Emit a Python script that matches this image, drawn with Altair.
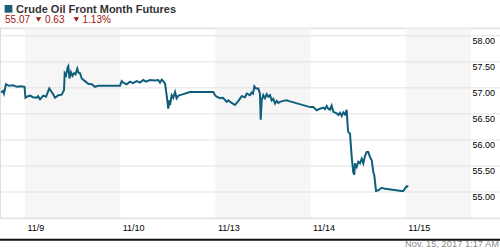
import altair as alt
import pandas as pd

# Trading-session position (0 = start of 11/9 session, 1 = 11/10, ...) and price
t = [-0.252, -0.231, -0.221, -0.200, -0.168, -0.126, -0.084, -0.042, -0.005, 0.005,
     0.032, 0.053, 0.084, 0.123, 0.137, 0.158, 0.192, 0.221, 0.255, 0.280,
     0.294, 0.315, 0.350, 0.386, 0.410, 0.417, 0.431, 0.449, 0.455, 0.467,
     0.483, 0.499, 0.515, 0.530, 0.549, 0.562, 0.578, 0.596, 0.630, 0.665,
     0.701, 0.735, 0.770, 0.998, 1.016, 1.033, 1.068, 1.103, 1.134, 1.173,
     1.208, 1.243, 1.271, 1.313, 1.366, 1.400, 1.418, 1.436, 1.453, 1.471,
     1.488, 1.505, 1.516, 1.523, 1.541, 1.558, 1.576, 1.593, 1.612, 1.628,
     1.663, 1.699, 1.733, 1.978, 1.996, 2.014, 2.048, 2.080, 2.119, 2.136,
     2.171, 2.206, 2.241, 2.277, 2.311, 2.329, 2.363, 2.381, 2.395, 2.409,
     2.426, 2.451, 2.468, 2.476, 2.486, 2.503, 2.521, 2.539, 2.556, 2.574,
     2.591, 2.608, 2.626, 2.644, 2.661, 2.679, 2.713, 2.749, 2.784, 2.994,
     3.028, 3.064, 3.099, 3.133, 3.151, 3.169, 3.186, 3.204, 3.221, 3.239,
     3.274, 3.291, 3.309, 3.327, 3.344, 3.361, 3.379, 3.390, 3.396, 3.414,
     3.432, 3.448, 3.459, 3.466, 3.484, 3.501, 3.519, 3.537, 3.554, 3.571,
     3.589, 3.606, 3.624, 3.642, 3.659, 3.669, 3.687, 3.711, 3.747, 3.782,
     3.957, 3.974, 3.992, 4.010, 4.026]
price = [56.91, 56.94, 56.89, 57.07, 57.04, 57.05, 57.02, 57.03, 57.02, 56.81,
         56.84, 56.85, 56.82, 56.81, 56.84, 56.78, 56.85, 56.83, 56.99, 56.92,
         56.88, 56.81, 56.86, 56.87, 56.96, 57.28, 57.24, 57.40, 57.42, 57.18,
         57.30, 57.23, 57.28, 57.26, 57.37, 57.29, 57.28, 57.18, 57.13, 57.08,
         57.07, 57.02, 57.04, 57.04, 57.13, 57.10, 57.07, 57.12, 57.09, 57.13,
         57.10, 57.15, 57.12, 57.15, 57.14, 57.15, 57.10, 57.16, 57.13, 57.08,
         56.86, 56.60, 56.76, 56.67, 56.86, 56.81, 56.92, 56.80, 56.85, 56.86,
         56.88, 56.90, 56.92, 56.92, 56.86, 56.83, 56.80, 56.81, 56.73, 56.76,
         56.71, 56.67, 56.75, 56.84, 56.82, 56.89, 56.86, 56.91, 56.89, 57.03,
         56.99, 56.99, 56.89, 56.39, 56.76, 56.86, 56.80, 56.88, 56.83, 56.86,
         56.76, 56.79, 56.70, 56.75, 56.71, 56.73, 56.75, 56.76, 56.74, 56.63,
         56.63, 56.57, 56.60, 56.62, 56.59, 56.65, 56.60, 56.58, 56.66, 56.54,
         56.51, 56.48, 56.52, 56.46, 56.53, 56.49, 56.58, 56.24, 56.15, 56.12,
         55.67, 55.38, 55.33, 55.55, 55.48, 55.58, 55.55, 55.64, 55.55, 55.69,
         55.77, 55.77, 55.67, 55.61, 55.38, 55.32, 55.02, 55.03, 55.08, 55.06,
         55.02, 55.02, 55.07, 55.11, 55.10]

day_pos = [0, 1, 2, 3, 4]
day_labels = ["11/9", "11/10", "11/13", "11/14", "11/15"]
band_start = [0, 2, 4]
band_end = [1, 3, 4.685]
price_ticks = [55.0, 55.5, 56.0, 56.5, 57.0, 57.5, 58.0]
grid_values = [54.5] + price_ticks + [58.15]

title_text = "Crude Oil Front Month Futures"
last_text = "55.07"
chg_text = "0.63"
pct_text = "1.13%"
stamp_text = "Nov. 15, 2017 1:17 AM"

X_DOMAIN = [-0.2626, 4.9895]
Y_DOMAIN = [54.5, 58.15]
W, H = 500, 190

line_df = pd.DataFrame({"t": t, "price": price})
band_df = pd.DataFrame({"s": band_start, "e": band_end})

label_map = "{" + ",".join(f"'{p}':'{l}'" for p, l in zip(day_pos, day_labels)) + "}"

x_scale = alt.Scale(domain=X_DOMAIN, nice=False, zero=False)
y_scale = alt.Scale(domain=Y_DOMAIN, nice=False, zero=False)

x_axis = alt.Axis(values=day_pos, labelExpr=label_map + "[datum.value]",
                  grid=False, domain=False, ticks=True, tickSize=0,
                  labelAlign="left", labelBaseline="top", labelPadding=5,
                  labelOffset=2, labelFont="Liberation Sans",
                  labelFontSize=9, labelColor="#000", title=None,
                  labelOverlap=False, labelFlush=False)
y_axis = alt.Axis(values=price_ticks, format=".2f", orient="right",
                  grid=False, domain=False, ticks=True, tickSize=0,
                  labelPadding=-28, labelAlign="left", labelBaseline="top",
                  labelOffset=1, labelFont="Liberation Sans",
                  labelFontSize=9, labelColor="#000", title=None,
                  labelOverlap=False, labelFlush=False)

bands = alt.Chart(band_df).mark_rect(color="#f6f6f6").encode(
    x=alt.X("s:Q", scale=x_scale, axis=x_axis),
    x2="e:Q",
    y=alt.value(0),
    y2=alt.value(H),
)

grid = alt.Chart(pd.DataFrame({"g": grid_values})).mark_rule(
    color="#e2e2e2", strokeWidth=1
).encode(
    y=alt.Y("g:Q", scale=y_scale, axis=y_axis),
    x=alt.value(0),
    x2=alt.value(W),
)

line = alt.Chart(line_df).mark_line(color="#0f5f7c", strokeWidth=2).encode(
    x=alt.X("t:Q", scale=x_scale, axis=x_axis),
    y=alt.Y("price:Q", scale=y_scale, axis=y_axis),
)

hdr = pd.DataFrame({"k": [0]})
square = alt.Chart(hdr).mark_square(color="#1b5f78", size=60, opacity=1, filled=True).encode(
    x=alt.value(8.5), y=alt.value(8.8 - 28)
)
title_mark = alt.Chart(hdr).mark_text(
    text=title_text, font="Liberation Sans", fontSize=11, fontWeight="bold",
    color="#333333", align="left", baseline="alphabetic"
).encode(x=alt.value(16), y=alt.value(13.3 - 28))

red = "#a01515"
sub_parts = [
    (5, last_text), (45, chg_text), (82.5, pct_text)
]
sub_df = pd.DataFrame({"txt": [p[1] for p in sub_parts], "px": [p[0] for p in sub_parts]})
subs = alt.Chart(sub_df).mark_text(
    font="Liberation Sans", fontSize=10, color=red, align="left", baseline="alphabetic"
).encode(x=alt.X("px:Q", scale=None), y=alt.value(23.4 - 28), text="txt:N")

tri_df = pd.DataFrame({"px": [38.5, 76.3]})
tris = alt.Chart(tri_df).mark_point(
    shape="triangle-down", filled=True, color=red, size=28, opacity=1
).encode(x=alt.X("px:Q", scale=None), y=alt.value(19.5 - 28))

baseline = alt.Chart(hdr).mark_rule(color="#111111", strokeWidth=2).encode(
    x=alt.value(0), x2=alt.value(500), y=alt.value(239.8 - 28)
)
stamp = alt.Chart(hdr).mark_text(
    text=stamp_text, font="Liberation Sans", fontSize=9.3, color="#8a8a8a",
    align="right", baseline="alphabetic"
).encode(x=alt.value(499), y=alt.value(247 - 28))

chart = alt.layer(
    bands, grid, line, square, title_mark, subs, tris, baseline, stamp
).properties(
    width=W, height=H,
    autosize=alt.AutoSizeParams(type="none"),
    padding={"left": 0, "top": 28, "right": 0, "bottom": 32},
).configure_view(stroke=None).configure(background="white")

chart.save("out.html", embed_options={"renderer": "svg", "actions": False})
